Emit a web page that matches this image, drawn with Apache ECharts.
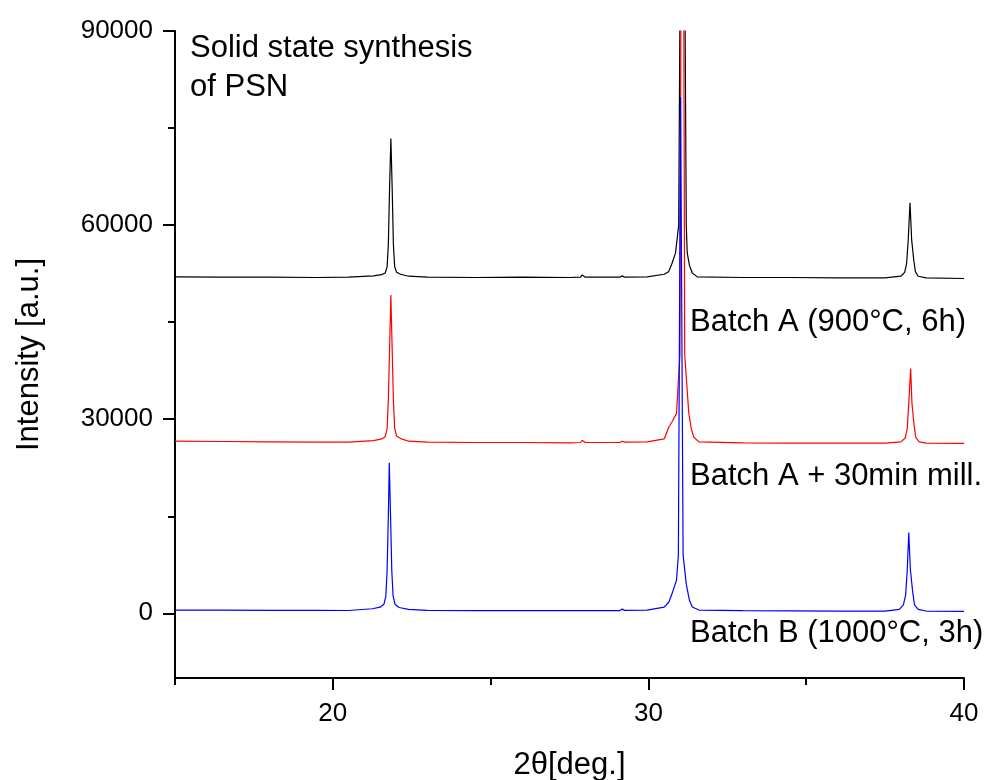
<!DOCTYPE html>
<html>
<head>
<meta charset="utf-8">
<script src="https://cdn.jsdelivr.net/npm/echarts@6/dist/echarts.min.js"></script>
<style>
  html, body { margin: 0; padding: 0; background: #fff; }
  #chart { width: 995px; height: 780px; }
</style>
</head>
<body>
<div id="chart"></div>
<script>
// 2theta / intensity points
const batchA = [
  [15, 52000], [16.5, 51950], [18, 51950], [19.5, 51900], [20.5, 51950], [21.29, 52150],
  [21.55, 52350], [21.66, 52600], [21.72, 53500], [21.76, 57000], [21.8, 66000], [21.84, 73400],
  [21.88, 66000], [21.92, 57000], [21.96, 53600], [22.02, 52700], [22.15, 52400], [22.4, 52100],
  [23, 51950], [24.5, 51900], [26, 51950],
  [27.5, 51900], [27.85, 51950], [27.9, 52300], [28.0, 51950], [29.1, 51950], [29.17, 52150],
  [29.25, 51950], [29.96, 52000], [30.0, 52250], [30.5, 52400], [30.64, 52800],
  [30.75, 54100], [30.86, 55700], [30.96, 60000], [31.08, 160000], [31.2, 60000],
  [31.23, 55700], [31.3, 53800], [31.39, 52600], [31.55, 52000], [33, 51900], [34.5, 51900], [36, 51850],
  [37.5, 51850], [38.0, 52100], [38.12, 52700], [38.18, 54000], [38.23, 57500], [38.29, 63450],
  [38.34, 57800], [38.37, 57500], [38.41, 54500], [38.46, 52800], [38.55, 52100], [38.8, 51850], [40, 51750]
];
const batchAMilled = [
  [15, 26600], [16.5, 26550], [18, 26500], [19.5, 26450], [20.5, 26450], [21.29, 26700],
  [21.55, 26950], [21.66, 27300], [21.72, 28500], [21.76, 33000], [21.8, 41000], [21.84, 49200],
  [21.88, 41000], [21.92, 33000], [21.96, 28600], [22.02, 27400], [22.15, 27000], [22.4, 26600],
  [23, 26450], [24.5, 26400], [26, 26400],
  [27.5, 26350], [27.85, 26400], [27.9, 26750], [28.0, 26400], [29.1, 26400], [29.17, 26600],
  [29.25, 26450], [29.96, 26500], [30.0, 26750], [30.5, 26950], [30.65, 28800],
  [30.75, 29600], [30.89, 30900], [31.0, 40000], [31.075, 180000], [31.15, 40000],
  [31.28, 30900], [31.36, 28500], [31.44, 27200], [31.6, 26500], [33, 26350], [34.5, 26300], [36, 26300],
  [37.5, 26300], [38.0, 26500], [38.14, 27100], [38.2, 28500], [38.25, 32500], [38.31, 37850],
  [38.35, 32500], [38.38, 32300], [38.42, 29000], [38.47, 27200], [38.58, 26500], [38.8, 26300], [40, 26250]
];
const batchB = [
  [15, 500], [16.5, 480], [18, 450], [19.5, 450], [20.5, 430], [21.25, 700],
  [21.5, 950], [21.62, 1400], [21.68, 2600], [21.72, 6500], [21.76, 15000], [21.79, 23250],
  [21.83, 15000], [21.87, 6500], [21.91, 2700], [21.97, 1400], [22.1, 900], [22.4, 600],
  [23, 450], [24.5, 420], [26, 420],
  [27.5, 400], [27.85, 420], [27.9, 700], [28.0, 420], [29.1, 420], [29.17, 650],
  [29.25, 450], [29.96, 480], [30.0, 750], [30.5, 950], [30.65, 1750],
  [30.75, 3050], [30.89, 5100], [30.95, 9000], [31.02, 79800], [31.1, 9000],
  [31.2, 4500], [31.3, 2000], [31.39, 970], [31.6, 500], [33, 400], [34.5, 380], [36, 350],
  [37.5, 350], [37.95, 600], [38.08, 1300], [38.15, 2800], [38.2, 6500], [38.25, 12500],
  [38.3, 6800], [38.33, 6650], [38.37, 3500], [38.43, 1300], [38.55, 600], [38.8, 350], [40, 300]
];

const xMajor = [20, 30, 40];
const xMinor = [15, 25, 35];
const yMajor = [0, 30000, 60000, 90000];
const yMinor = [15000, 45000, 75000];

const FONT = '"Liberation Sans", Arial, sans-serif';
const TEXT_SIZE = 31;

var chartDom = document.getElementById('chart');
var myChart = echarts.init(chartDom);

var option = {
  animation: false,
  backgroundColor: '#fff',
  grid: { left: 175, right: 31, top: 31, bottom: 102, outerBoundsMode: 'none', containLabel: false },
  xAxis: [
    {
      type: 'value',
      min: 15,
      max: 40,
      interval: 5,
      name: '2θ[deg.]',
      nameLocation: 'middle',
      nameGap: 72,
      nameTextStyle: { color: '#000', fontSize: TEXT_SIZE, fontFamily: FONT },
      axisLine: { show: true, onZero: false, lineStyle: { color: '#000', width: 2 } },
      axisTick: { show: true, customValues: xMajor, length: 12, lineStyle: { color: '#000', width: 2 } },
      axisLabel: { customValues: xMajor, color: '#000', fontSize: 26, fontFamily: FONT, margin: 23 },
      splitLine: { show: false }
    },
    {
      type: 'value',
      min: 15,
      max: 40,
      position: 'bottom',
      axisLine: { show: false, onZero: false },
      axisTick: { show: true, customValues: xMinor, length: 7, lineStyle: { color: '#000', width: 2 } },
      axisLabel: { show: false },
      splitLine: { show: false }
    }
  ],
  yAxis: [
    {
      type: 'value',
      min: -10000,
      max: 90000,
      name: 'Intensity [a.u.]',
      nameLocation: 'middle',
      nameGap: 130,
      nameTextStyle: { color: '#000', fontSize: TEXT_SIZE, fontFamily: FONT },
      axisLine: { show: true, onZero: false, lineStyle: { color: '#000', width: 2 } },
      axisTick: { show: true, customValues: yMajor, length: 12, lineStyle: { color: '#000', width: 2 } },
      axisLabel: {
        customValues: yMajor, color: '#000', fontSize: 26, fontFamily: FONT, margin: 22,
        formatter: function (v) { return String(v); }
      },
      splitLine: { show: false }
    },
    {
      type: 'value',
      min: -10000,
      max: 90000,
      position: 'left',
      axisLine: { show: false, onZero: false },
      axisTick: { show: true, customValues: yMinor, length: 7, lineStyle: { color: '#000', width: 2 } },
      axisLabel: { show: false },
      splitLine: { show: false }
    }
  ],
  series: [
    {
      name: 'Batch A (900°C, 6h)',
      type: 'line',
      data: batchA,
      showSymbol: false,
      clip: true,
      lineStyle: { color: '#000000', width: 1.2 }
    },
    {
      name: 'Batch A + 30min mill.',
      type: 'line',
      data: batchAMilled,
      showSymbol: false,
      clip: true,
      lineStyle: { color: '#ff0000', width: 1.2 }
    },
    {
      name: 'Batch B (1000°C, 3h)',
      type: 'line',
      data: batchB,
      showSymbol: false,
      clip: true,
      lineStyle: { color: '#0000ff', width: 1.2 }
    }
  ],
  graphic: [
    {
      type: 'text', left: 190, top: 29,
      style: { text: 'Solid state synthesis\nof PSN', font: TEXT_SIZE + 'px ' + FONT, fill: '#000', lineHeight: 39 }
    },
    {
      type: 'text', x: 690, y: 322,
      style: { text: 'Batch A (900°C, 6h)', font: TEXT_SIZE + 'px ' + FONT, fill: '#000', verticalAlign: 'middle' }
    },
    {
      type: 'text', x: 690, y: 476,
      style: { text: 'Batch A + 30min mill.', font: TEXT_SIZE + 'px ' + FONT, fill: '#000', verticalAlign: 'middle' }
    },
    {
      type: 'text', x: 690, y: 633,
      style: { text: 'Batch B (1000°C, 3h)', font: TEXT_SIZE + 'px ' + FONT, fill: '#000', verticalAlign: 'middle' }
    }
  ]
};

myChart.setOption(option);
</script>
</body>
</html>
